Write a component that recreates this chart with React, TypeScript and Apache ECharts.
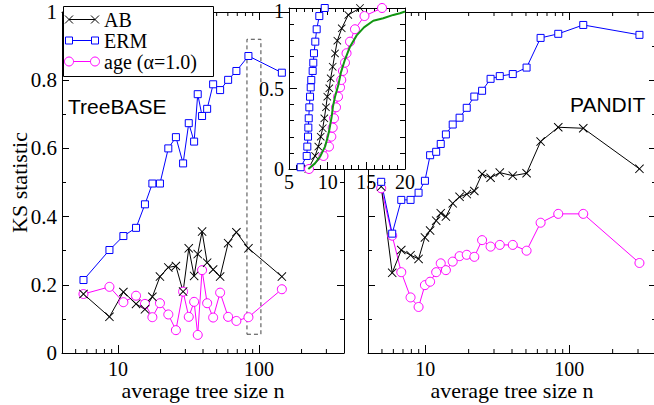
import React, { useEffect, useRef } from 'react';
import * as echarts from 'echarts';

// ---------- ticks ----------
const xTickLabels = [10, 100];
const xMinorTicks = [5, 6, 7, 8, 9, 20, 30, 40, 50, 60, 70, 80, 90, 200, 300];
const xRange = [4, 400];
const yTickStep = 0.2;
const insetXRange = [5, 20];
const insetXTickStep = 5;
const insetYTickStep = 0.5;

// ---------- TreeBASE panel (left) ----------
const tbSize = [5.68, 8.68, 10.9, 13.4, 15.5, 17.5, 19.8, 22.7, 25.7, 28.9, 31.7, 34.6, 36.7, 39.4, 42.8, 47.2, 52.9, 60.3, 69.0, 84.0, 145];
const tbERM = [0.214, 0.302, 0.343, 0.367, 0.436, 0.497, 0.497, 0.600, 0.633, 0.556, 0.674, 0.620, 0.759, 0.695, 0.716, 0.788, 0.771, 0.801, 0.827, 0.871, 0.822];
const tbAB = [0.173, 0.106, 0.179, 0.144, 0.128, 0.165, 0.224, 0.251, 0.255, 0.180, 0.307, 0.226, 0.290, 0.356, 0.265, 0.245, 0.224, 0.322, 0.354, 0.307, 0.224];
const tbAge = [0.173, 0.194, 0.149, 0.168, 0.144, 0.105, 0.146, 0.113, 0.067, 0.180, 0.106, 0.150, 0.053, 0.243, 0.146, 0.104, 0.177, 0.106, 0.094, 0.105, 0.187];
const boxX = [82, 103];
const boxY = [0.055, 0.92];

// ---------- PANDIT panel (right) ----------
const pdSize = [4.94, 5.89, 6.81, 7.90, 8.98, 9.94, 10.8, 11.9, 12.8, 13.9, 15.5, 17.3, 19.4, 21.9, 24.8, 28.4, 32.9, 40.5, 50.5, 63.2, 83.8, 125, 307];
const pdERM = [0.502, 0.35, 0.449, 0.449, 0.470, 0.505, 0.580, 0.590, 0.613, 0.641, 0.670, 0.690, 0.719, 0.752, 0.769, 0.804, 0.812, 0.818, 0.837, 0.924, 0.936, 0.962, 0.933];
const pdAB = [0.488, 0.235, 0.302, 0.287, 0.276, 0.339, 0.359, 0.388, 0.410, 0.400, 0.439, 0.458, 0.466, 0.475, 0.525, 0.514, 0.529, 0.520, 0.527, 0.620, 0.662, 0.659, 0.540];
const pdAge = [0.483, 0.344, 0.237, 0.163, 0.135, 0.199, 0.209, 0.237, 0.263, 0.243, 0.268, 0.284, 0.288, 0.282, 0.331, 0.312, 0.317, 0.317, 0.300, 0.382, 0.408, 0.408, 0.264];

// ---------- inset (cumulative distributions) ----------
const inERMx = [6.51, 7.29, 7.37, 7.46, 7.50, 7.55, 7.63, 7.72, 7.81, 7.88, 8.06, 8.14, 8.23, 8.40, 8.58, 8.92, 9.62];
const inERMy = [0.011, 0.081, 0.139, 0.201, 0.257, 0.315, 0.383, 0.449, 0.507, 0.553, 0.609, 0.660, 0.719, 0.791, 0.868, 0.950, 1.0];
const inABx = [7.50, 8.37, 8.79, 9.10, 9.36, 9.57, 9.78, 9.95, 10.21, 10.39, 10.65, 10.95, 11.25, 11.82, 12.67, 14.18];
const inABy = [0.0, 0.081, 0.139, 0.201, 0.253, 0.315, 0.383, 0.449, 0.501, 0.563, 0.635, 0.718, 0.797, 0.874, 0.957, 1.0];
const inAgex = [7.59, 9.46, 10.17, 10.47, 10.65, 10.82, 11.08, 11.34, 11.60, 11.76, 11.98, 12.24, 12.44, 12.89, 13.53, 14.76, 17.03];
const inAgey = [0.0, 0.081, 0.139, 0.201, 0.257, 0.315, 0.383, 0.449, 0.507, 0.553, 0.609, 0.660, 0.719, 0.791, 0.868, 0.950, 1.0];
const inDatax = [7.50, 8.36, 9.01, 9.66, 10.04, 10.21, 10.52, 10.69, 10.95, 11.38, 11.72, 12.24, 12.89, 13.75, 14.70, 15.90, 17.19, 18.49, 19.35, 20.0];
const inDatay = [0.0, 0.035, 0.076, 0.139, 0.205, 0.242, 0.325, 0.39, 0.449, 0.522, 0.60, 0.68, 0.76, 0.83, 0.88, 0.921, 0.936, 0.957, 0.967, 0.978];

const legendNames = ['AB', 'ERM', 'age (α=1.0)'];
const panelNames = ['TreeBASE', 'PANDIT'];

const SERIF = '"Liberation Serif", "Times New Roman", Times, serif';
const SANS = '"Liberation Sans", Arial, Helvetica, sans-serif';
const BLUE = '#0000ff';
const MAGENTA = '#ff00ff';
const GREEN = '#129612';
const X_SYMBOL = 'path://M0,1.5L1.5,0L10,8.5L18.5,0L20,1.5L11.5,10L20,18.5L18.5,20L10,11.5L1.5,20L0,18.5L8.5,10Z';

const pairs = (xs: number[], ys: number[]) => xs.map((x, i) => [x, ys[i]]);

type Kind = 'AB' | 'ERM' | 'age';
const styleOf = (k: Kind) => {
  if (k === 'AB') return { symbol: X_SYMBOL, symbolSize: 9, itemStyle: { color: '#000', borderWidth: 0 }, lineStyle: { color: '#000', width: 1 } };
  if (k === 'ERM') return { symbol: 'rect', symbolSize: 7, itemStyle: { color: '#fff', borderColor: BLUE, borderWidth: 1 }, lineStyle: { color: BLUE, width: 1 } };
  return { symbol: 'circle', symbolSize: 9, itemStyle: { color: '#fff', borderColor: MAGENTA, borderWidth: 1 }, lineStyle: { color: MAGENTA, width: 1 } };
};

const mkSeries = (name: string, k: Kind, xs: number[], ys: number[], xi: number, yi: number, z: number, extra: any = {}) => ({
  name,
  type: 'line',
  xAxisIndex: xi,
  yAxisIndex: yi,
  data: pairs(xs, ys),
  z,
  emphasis: { disabled: true },
  ...styleOf(k),
  ...extra,
});

// minor log ticks, drawn through the axes' own scales
const mkMinorTicks = (xi: number, yi: number) => ({
  type: 'custom',
  xAxisIndex: xi,
  yAxisIndex: yi,
  silent: true,
  clip: false,
  z: 1,
  data: xMinorTicks.map((v) => [v]),
  renderItem: (_p: any, api: any) => {
    const v = api.value(0);
    const b = api.coord([v, 0]);
    const t = api.coord([v, 1]);
    const st = { stroke: '#000', lineWidth: 1 };
    return {
      type: 'group',
      children: [
        { type: 'line', shape: { x1: b[0], y1: b[1], x2: b[0], y2: b[1] - 4 }, style: st },
        { type: 'line', shape: { x1: t[0], y1: t[1], x2: t[0], y2: t[1] + 4 }, style: st },
      ],
    };
  },
});

const logFormatter = (v: number) => {
  const r = Math.round(v);
  return xTickLabels.includes(r) ? String(r) : '';
};

const tickLine = { lineStyle: { color: '#000', width: 1 } };

const mkLogX = (gridIndex: number, position: 'bottom' | 'top', labels: boolean) => ({
  type: 'log',
  logBase: 10,
  gridIndex,
  position,
  min: xRange[0],
  max: xRange[1],
  axisLine: { show: true, onZero: false, lineStyle: { color: '#000', width: 1 } },
  axisTick: { show: true, inside: true, length: 8, ...tickLine },
  minorTick: { show: false },
  splitLine: { show: false },
  minorSplitLine: { show: false },
  axisLabel: { show: labels, margin: 8, lineHeight: 15, color: '#000', fontFamily: SERIF, fontSize: 20, formatter: logFormatter },
  name: labels ? 'average tree size n' : '',
  nameLocation: 'middle',
  nameGap: 29,
  nameMoveOverlap: false,
  nameTextStyle: { color: '#000', fontFamily: SERIF, fontSize: 22, lineHeight: 16 },
});

const mkY = (gridIndex: number, position: 'left' | 'right', labels: boolean, name = '') => ({
  type: 'value',
  gridIndex,
  position,
  min: 0,
  max: 1,
  interval: yTickStep,
  axisLine: { show: true, onZero: false, lineStyle: { color: '#000', width: 1 } },
  axisTick: { show: true, inside: true, length: 7, ...tickLine },
  minorTick: { show: true, splitNumber: 2, length: 4, ...tickLine },
  splitLine: { show: false },
  axisLabel: { show: labels, margin: 5, color: '#000', fontFamily: SERIF, fontSize: 21 },
  name,
  nameLocation: 'middle',
  nameGap: 32,
  nameMoveOverlap: false,
  nameTextStyle: { color: '#000', fontFamily: SERIF, fontSize: 22 },
});

const mkInsetX = (position: 'bottom' | 'top', labels: boolean) => ({
  type: 'value',
  gridIndex: 2,
  position,
  min: insetXRange[0],
  max: insetXRange[1],
  interval: insetXTickStep,
  z: 11,
  axisLine: { show: true, onZero: false, lineStyle: { color: '#000', width: 1 } },
  axisTick: { show: true, inside: true, length: 7, ...tickLine },
  minorTick: { show: true, splitNumber: 5, length: 4, ...tickLine },
  splitLine: { show: false },
  axisLabel: { show: labels, margin: 3, color: '#000', fontFamily: SERIF, fontSize: 20 },
});

const mkInsetY = (position: 'left' | 'right', labels: boolean) => ({
  type: 'value',
  gridIndex: 2,
  position,
  min: 0,
  max: 1,
  interval: insetYTickStep,
  z: 11,
  axisLine: { show: true, onZero: false, lineStyle: { color: '#000', width: 1 } },
  axisTick: { show: true, inside: true, length: 8, ...tickLine },
  minorTick: { show: true, splitNumber: 5, length: 5, ...tickLine },
  splitLine: { show: false },
  axisLabel: {
    show: labels, margin: 5, color: '#000', fontFamily: SERIF, fontSize: 20, lineHeight: 6,
    verticalAlignMaxLabel: 'top',
  },
});

// legend built from graphic elements
const legendGraphic = () => {
  const els: any[] = [
    { type: 'rect', z: 100, shape: { x: 63.5, y: 6.5, width: 150, height: 70 }, style: { fill: '#fff', stroke: '#000', lineWidth: 1 } },
  ];
  const colors = ['#000', BLUE, MAGENTA];
  legendNames.forEach((name, i) => {
    const y = 19.5 + i * 21;
    const x0 = 69;
    const x1 = 95;
    els.push({ type: 'line', z: 101, shape: { x1: x0, y1: y, x2: x1, y2: y }, style: { stroke: colors[i], lineWidth: 1 } });
    [x0, x1].forEach((cx) => {
      if (i === 0) {
        els.push({ type: 'line', z: 102, shape: { x1: cx - 4, y1: y - 4, x2: cx + 4, y2: y + 4 }, style: { stroke: '#000', lineWidth: 1 } });
        els.push({ type: 'line', z: 102, shape: { x1: cx - 4, y1: y + 4, x2: cx + 4, y2: y - 4 }, style: { stroke: '#000', lineWidth: 1 } });
      } else if (i === 1) {
        els.push({ type: 'rect', z: 102, shape: { x: cx - 3.5, y: y - 3.5, width: 7, height: 7 }, style: { fill: '#fff', stroke: BLUE, lineWidth: 1 } });
      } else {
        els.push({ type: 'circle', z: 102, shape: { cx, cy: y, r: 4.5 }, style: { fill: '#fff', stroke: MAGENTA, lineWidth: 1 } });
      }
    });
    els.push({
      type: 'text', z: 102, x: 104, y,
      style: { text: name, fill: '#000', font: `20px ${SERIF}`, verticalAlign: 'middle', align: 'left' },
    });
  });
  return els;
};

const option: any = {
  animation: false,
  backgroundColor: '#fff',
  grid: [
    { left: 62, top: 12, width: 282, height: 341, outerBoundsMode: 'none', containLabel: false },
    { left: 368, top: 12, width: 288, height: 341, outerBoundsMode: 'none', containLabel: false },
    { left: 289, top: 8, width: 116, height: 161, show: true, backgroundColor: '#fff', borderWidth: 0, z: 10, outerBoundsMode: 'none', containLabel: false },
  ],
  xAxis: [
    mkLogX(0, 'bottom', true),
    mkLogX(0, 'top', false),
    mkLogX(1, 'bottom', true),
    mkLogX(1, 'top', false),
    mkInsetX('bottom', true),
    mkInsetX('top', false),
  ],
  yAxis: [
    mkY(0, 'left', true, 'KS statistic'),
    mkY(0, 'right', false),
    mkY(1, 'left', false),
    mkY(1, 'right', false),
    mkInsetY('left', true),
    mkInsetY('right', false),
  ],
  series: [
    mkMinorTicks(0, 0),
    mkMinorTicks(2, 2),
    mkSeries('age (α=1.0)', 'age', tbSize, tbAge, 0, 0, 2),
    mkSeries('AB', 'AB', tbSize, tbAB, 0, 0, 2),
    mkSeries('ERM', 'ERM', tbSize, tbERM, 0, 0, 2, {
      markArea: {
        silent: true,
        itemStyle: { color: 'rgba(0,0,0,0)', borderColor: '#444', borderWidth: 1, borderType: [4, 3] },
        data: [[{ coord: [boxX[0], boxY[0]] }, { coord: [boxX[1], boxY[1]] }]],
      },
    }),
    mkSeries('age (α=1.0)', 'age', pdSize, pdAge, 2, 2, 2),
    mkSeries('AB', 'AB', pdSize, pdAB, 2, 2, 2),
    mkSeries('ERM', 'ERM', pdSize, pdERM, 2, 2, 2),
    mkSeries('ERM', 'ERM', inERMx, inERMy, 4, 4, 12),
    mkSeries('AB', 'AB', inABx, inABy, 4, 4, 12, { symbolSize: 8 }),
    mkSeries('age (α=1.0)', 'age', inAgex, inAgey, 4, 4, 12),
    {
      name: 'data',
      type: 'line',
      xAxisIndex: 4,
      yAxisIndex: 4,
      data: pairs(inDatax, inDatay),
      z: 13,
      symbol: 'none',
      emphasis: { disabled: true },
      lineStyle: { color: GREEN, width: 2 },
      itemStyle: { color: GREEN },
    },
  ],
  graphic: [
    ...legendGraphic(),
    {
      type: 'text', z: 50, x: 68, y: 106,
      style: { text: panelNames[0], fill: '#000', font: `21px ${SANS}`, verticalAlign: 'middle', align: 'left' },
    },
    {
      type: 'text', z: 50, x: 570, y: 104.5,
      style: { text: panelNames[1], fill: '#000', font: `21px ${SANS}`, verticalAlign: 'middle', align: 'left' },
    },
  ],
};

export default function App() {
  const ref = useRef<HTMLDivElement>(null);
  useEffect(() => {
    if (!ref.current) return;
    const chart = echarts.init(ref.current, null, { renderer: 'svg' });
    chart.setOption(option);
    return () => chart.dispose();
  }, []);
  return <div ref={ref} style={{ position: 'absolute', left: 0, top: 0, width: 654, height: 405 }} />;
}
